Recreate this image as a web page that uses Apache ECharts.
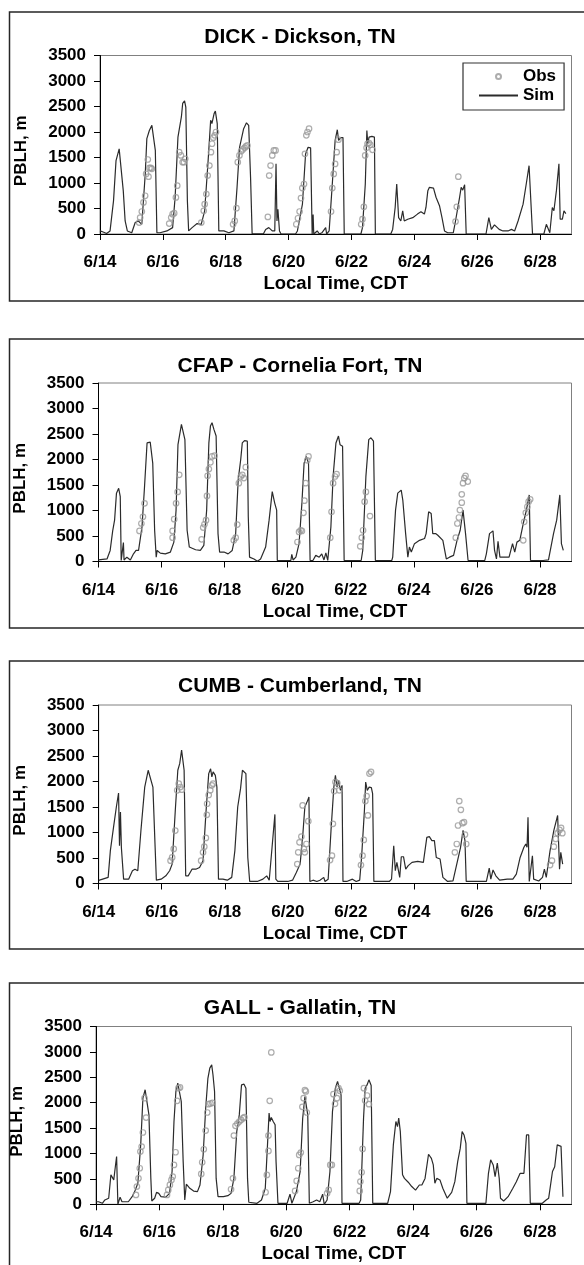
<!DOCTYPE html>
<html><head><meta charset="utf-8">
<script src="https://cdn.jsdelivr.net/npm/echarts@6/dist/echarts.min.js"></script>
<style>html,body{margin:0;padding:0;background:#fff}#c{width:584px;height:1265px}</style>
</head><body><div id="c"></div>
<script>
// ---- data (x = days since 6/14 00:00 CDT, y = PBLH in m) ----
const stationTitles = ['DICK - Dickson, TN', 'CFAP - Cornelia Fort, TN', 'CUMB - Cumberland, TN', 'GALL - Gallatin, TN'];
const xTickDays = [0, 2, 4, 6, 8, 10, 12, 14];
const xTickLabels = ['6/14', '6/16', '6/18', '6/20', '6/22', '6/24', '6/26', '6/28'];
const yTicks = [0, 500, 1000, 1500, 2000, 2500, 3000, 3500];

const dickSim = [[0,60],[0.1,40],[0.21,10],[0.32,60],[0.43,650],[0.51,1440],[0.61,1670],[0.67,1640],[0.74,850],[0.8,255],[0.87,60],[1.01,25],[1.12,225],[1.22,255],[1.33,190],[1.44,1180],[1.49,1870],[1.57,2030],[1.65,2130],[1.71,2110],[1.76,1640],[1.81,25],[1.91,25],[2.13,60],[2.31,125],[2.39,720],[2.48,1900],[2.59,2300],[2.63,2560],[2.69,2610],[2.73,2490],[2.78,650],[2.82,60],[2.93,125],[3.09,205],[3.22,190],[3.33,455],[3.44,1440],[3.52,2230],[3.56,2165],[3.63,2360],[3.67,2410],[3.73,2165],[3.78,60],[3.94,60],[4.1,25],[4.26,60],[4.36,915],[4.44,1700],[4.57,2065],[4.66,2180],[4.73,2130],[4.79,1110],[4.84,5],[5.2,5],[5.27,90],[5.37,125],[5.48,60],[5.56,60],[5.6,1375],[5.63,255],[5.66,485],[5.71,60],[5.76,0],[6.22,0],[6.28,60],[6.44,585],[6.54,1570],[6.62,1700],[6.7,1690],[6.75,0],[6.78,380],[6.8,0],[6.91,60],[6.98,0],[7.07,30],[7.18,125],[7.21,0],[7.29,60],[7.39,980],[7.48,1835],[7.55,2045],[7.59,1835],[7.66,1890],[7.73,1890],[7.77,0],[8.3,0],[8.35,125],[8.44,980],[8.49,2030],[8.52,1770],[8.56,1900],[8.65,1915],[8.73,1900],[8.76,0],[9.25,0],[9.31,90],[9.39,520],[9.44,980],[9.5,320],[9.57,255],[9.63,455],[9.68,255],[9.79,290],[9.95,320],[10.1,390],[10.21,435],[10.32,390],[10.37,520],[10.43,850],[10.48,915],[10.61,900],[10.69,720],[10.8,555],[10.88,320],[10.96,60],[11.06,25],[11.24,25],[11.31,255],[11.44,720],[11.49,915],[11.54,860],[11.6,965],[11.65,0],[12.28,0],[12.37,320],[12.45,90],[12.55,180],[12.7,90],[12.82,60],[12.98,60],[13.09,90],[13.19,60],[13.3,255],[13.46,585],[13.56,980],[13.65,1340],[13.7,1340],[13.76,0],[14.12,0],[14.2,190],[14.31,25],[14.39,520],[14.44,455],[14.52,850],[14.6,1375],[14.64,290],[14.71,290],[14.76,455],[14.82,400]];
const dickObs = [[1.245,224],[1.277,322],[1.33,441],[1.383,619],[1.436,750],[1.468,1178],[1.521,1461],[1.543,1125],[1.574,1296],[1.617,1296],[1.649,1277],[2.202,204],[2.266,322],[2.31,388],[2.36,408],[2.415,717],[2.457,947],[2.52,1605],[2.574,1540],[2.628,1408],[2.67,1408],[2.713,1474],[3.223,224],[3.3,454],[3.33,585],[3.383,783],[3.425,1145],[3.48,1342],[3.53,1605],[3.564,1770],[3.606,1888],[3.649,1934],[3.69,2000],[4.234,191],[4.287,257],[4.34,507],[4.383,1408],[4.436,1540],[4.489,1625],[4.543,1658],[4.6,1690],[4.64,1717],[4.69,1737],[5.34,335],[5.383,1145],[5.426,1342],[5.48,1540],[5.53,1638],[5.585,1638],[6.245,191],[6.298,309],[6.35,441],[6.394,704],[6.436,901],[6.49,980],[6.52,1573],[6.564,1934],[6.6,2000],[6.65,2066],[7.35,441],[7.39,901],[7.436,1178],[7.48,1375],[7.53,1605],[7.585,1849],[8.31,191],[8.35,290],[8.394,533],[8.436,1540],[8.48,1690],[8.51,1770],[8.56,1783],[8.6,1750],[8.67,1651],[11.31,243],[11.35,533],[11.4,1125]];

const cfapSim = [[0,30],[0.27,50],[0.37,217],[0.45,600],[0.51,810],[0.57,1340],[0.64,1435],[0.69,1270],[0.72,20],[0.76,20],[0.79,370],[0.81,30],[0.9,85],[1.01,30],[1.11,150],[1.19,217],[1.27,217],[1.38,680],[1.46,1470],[1.54,2325],[1.64,2340],[1.72,1930],[1.78,613],[1.83,85],[1.86,217],[1.96,165],[2.12,150],[2.28,185],[2.39,380],[2.46,1008],[2.52,2290],[2.57,2325],[2.63,2690],[2.68,2700],[2.74,2390],[2.81,613],[2.88,283],[3.08,230],[3.23,217],[3.34,315],[3.43,1008],[3.5,2325],[3.55,2655],[3.6,2720],[3.66,2590],[3.73,2460],[3.79,547],[3.84,185],[3.98,185],[4.11,150],[4.24,217],[4.35,547],[4.43,1600],[4.51,2000],[4.56,2325],[4.63,2370],[4.72,2360],[4.75,876],[4.79,85],[4.93,50],[5.04,5],[5.14,50],[5.3,283],[5.41,810],[5.51,1370],[5.59,1140],[5.65,1008],[5.67,20],[6.1,20],[6.13,138],[6.17,30],[6.26,85],[6.36,350],[6.45,1140],[6.52,1930],[6.59,2060],[6.66,1930],[6.71,20],[6.8,20],[6.89,120],[7.0,85],[7.08,150],[7.15,30],[7.21,170],[7.27,20],[7.37,680],[7.44,1670],[7.53,2325],[7.61,2460],[7.66,2290],[7.74,2260],[7.79,20],[8.33,20],[8.38,217],[8.48,1670],[8.57,2390],[8.64,2425],[8.72,2360],[8.78,20],[9.3,20],[9.33,85],[9.42,1008],[9.49,1340],[9.6,1400],[9.65,1205],[9.74,547],[9.81,85],[9.86,283],[9.92,185],[10.02,350],[10.18,415],[10.34,450],[10.39,547],[10.47,975],[10.55,940],[10.6,547],[10.69,547],[10.76,515],[10.92,415],[11.03,50],[11.13,85],[11.26,120],[11.37,415],[11.47,613],[11.56,1008],[11.64,547],[11.72,20],[12.25,20],[12.3,150],[12.4,547],[12.51,600],[12.56,217],[12.62,50],[12.67,395],[12.73,85],[12.83,85],[13.02,85],[13.13,350],[13.2,185],[13.27,380],[13.36,415],[13.47,745],[13.57,1008],[13.66,1305],[13.7,20],[14.1,20],[14.16,50],[14.27,30],[14.43,547],[14.53,810],[14.63,1305],[14.68,350],[14.74,217]];
const cfapObs = [[1.3,600],[1.36,745],[1.41,876],[1.46,1140],[2.35,468],[2.35,600],[2.4,830],[2.46,1140],[2.51,1364],[2.56,1700],[3.27,435],[3.32,665],[3.36,730],[3.41,810],[3.44,1285],[3.46,1680],[3.5,1812],[3.55,1944],[3.6,2060],[3.68,2075],[4.29,415],[4.35,468],[4.4,725],[4.45,1535],[4.51,1667],[4.56,1700],[4.61,1635],[4.67,1850],[6.31,382],[6.36,580],[6.41,613],[6.45,600],[6.5,955],[6.53,1193],[6.57,1535],[6.62,1984],[6.66,2060],[7.35,468],[7.39,975],[7.44,1535],[7.5,1667],[7.55,1713],[8.3,297],[8.35,468],[8.39,613],[8.44,1173],[8.48,1364],[8.61,890],[11.33,468],[11.38,745],[11.43,863],[11.46,1008],[11.52,1153],[11.52,1318],[11.56,1535],[11.6,1634],[11.64,1680],[11.71,1568],[13.47,415],[13.5,778],[13.55,955],[13.6,1074],[13.64,1173],[13.69,1219]];

const cumbSim = [[0,60],[0.3,120],[0.37,645],[0.47,1100],[0.56,1500],[0.63,1775],[0.66,740],[0.69,1400],[0.72,700],[0.79,85],[0.95,85],[1.07,250],[1.15,280],[1.24,250],[1.34,1040],[1.46,1890],[1.57,2220],[1.63,2250],[1.72,1890],[1.79,710],[1.83,65],[1.98,85],[2.13,150],[2.25,250],[2.33,380],[2.43,1430],[2.51,2220],[2.57,2350],[2.63,2615],[2.66,2650],[2.71,2220],[2.76,150],[2.84,150],[2.96,280],[3.08,280],[3.2,315],[3.31,445],[3.4,1365],[3.49,2155],[3.55,2250],[3.59,2090],[3.63,2190],[3.7,2120],[3.75,1890],[3.8,85],[3.94,85],[4.08,65],[4.22,120],[4.32,645],[4.41,1500],[4.5,1860],[4.56,2220],[4.62,2250],[4.67,2155],[4.73,510],[4.79,40],[5.03,40],[5.21,85],[5.33,150],[5.41,65],[5.5,710],[5.59,1355],[5.62,85],[5.68,40],[6.0,40],[6.15,65],[6.27,215],[6.39,380],[6.47,905],[6.54,1500],[6.63,1630],[6.67,1695],[6.7,40],[6.8,65],[6.92,40],[7.02,65],[7.14,120],[7.18,40],[7.28,85],[7.37,1040],[7.46,1890],[7.51,2120],[7.56,1890],[7.61,2020],[7.67,1825],[7.72,1925],[7.75,40],[7.87,40],[8.05,85],[8.17,40],[8.28,65],[8.34,510],[8.43,1430],[8.47,1990],[8.52,1825],[8.58,1890],[8.65,1880],[8.69,1760],[8.73,40],[9.22,40],[9.29,85],[9.36,740],[9.41,250],[9.46,415],[9.5,380],[9.55,120],[9.6,525],[9.67,525],[9.74,280],[9.82,350],[9.94,415],[10.12,435],[10.3,415],[10.36,445],[10.41,905],[10.49,920],[10.57,840],[10.65,840],[10.71,510],[10.83,480],[10.92,120],[11.07,40],[11.24,50],[11.36,380],[11.48,710],[11.56,1040],[11.62,840],[11.66,40],[12.3,40],[12.39,300],[12.44,85],[12.51,265],[12.6,150],[12.72,65],[12.96,85],[13.14,85],[13.25,185],[13.37,510],[13.49,710],[13.55,775],[13.59,710],[13.62,1300],[13.66,40],[13.72,40],[13.76,545],[13.8,85],[13.96,50],[14.08,120],[14.14,280],[14.2,120],[14.32,645],[14.44,1040],[14.56,1335],[14.62,280],[14.66,610],[14.72,380]];
const cumbObs = [[2.28,447],[2.33,512],[2.38,677],[2.43,1038],[2.49,1826],[2.54,1958],[2.59,1892],[2.64,1840],[3.25,447],[3.31,611],[3.35,723],[3.4,894],[3.43,1347],[3.44,1564],[3.49,1735],[3.54,1826],[3.59,1925],[3.63,1958],[6.3,381],[6.33,611],[6.37,808],[6.43,920],[6.47,1531],[6.51,677],[6.54,611],[6.59,775],[6.65,1222],[7.34,460],[7.4,545],[7.43,1170],[7.47,1813],[7.51,1990],[7.57,1971],[7.63,1826],[8.32,361],[8.37,545],[8.41,854],[8.46,1616],[8.5,1715],[8.54,1334],[8.59,2155],[8.64,2188],[11.3,611],[11.36,775],[11.4,1137],[11.44,1616],[11.49,1445],[11.54,1183],[11.59,1202],[11.62,959],[11.66,775],[14.32,361],[14.38,447],[14.44,723],[14.5,874],[14.56,986],[14.62,1051],[14.67,1091],[14.71,986]];

const gallSim = [[0,50],[0.08,50],[0.2,20],[0.28,85],[0.4,120],[0.47,580],[0.53,580],[0.56,480],[0.61,740],[0.65,940],[0.69,0],[0.73,20],[0.76,140],[0.82,50],[1.02,50],[1.14,150],[1.22,250],[1.32,415],[1.41,1170],[1.48,2090],[1.55,2255],[1.61,2220],[1.67,1760],[1.73,510],[1.76,65],[1.85,120],[1.91,235],[1.98,215],[2.05,150],[2.2,140],[2.32,215],[2.4,645],[2.46,1630],[2.52,2220],[2.58,2385],[2.64,2350],[2.69,2020],[2.75,840],[2.8,85],[2.85,395],[2.96,315],[3.08,260],[3.2,250],[3.28,380],[3.38,970],[3.46,1890],[3.53,2480],[3.59,2680],[3.65,2745],[3.69,2550],[3.74,2220],[3.79,510],[3.85,150],[4.02,150],[4.16,170],[4.26,215],[4.35,510],[4.44,1430],[4.52,1760],[4.59,2350],[4.67,2365],[4.73,2285],[4.78,510],[4.82,40],[5.08,20],[5.22,85],[5.34,315],[5.41,1170],[5.46,1795],[5.49,1630],[5.53,1710],[5.59,1630],[5.65,1565],[5.68,840],[5.72,840],[5.74,20],[6.03,20],[6.08,120],[6.12,200],[6.18,20],[6.32,250],[6.44,645],[6.52,1695],[6.59,2120],[6.64,2100],[6.68,1760],[6.73,20],[6.85,50],[6.96,85],[7.06,50],[7.15,200],[7.2,0],[7.29,85],[7.38,645],[7.46,1830],[7.55,2285],[7.62,2420],[7.67,2450],[7.73,2155],[7.76,20],[8.3,20],[8.35,85],[8.44,1695],[8.49,2285],[8.55,2350],[8.61,2450],[8.68,2340],[8.73,20],[9.2,20],[9.29,250],[9.38,1170],[9.46,1630],[9.51,1530],[9.55,1695],[9.6,1430],[9.67,580],[9.73,510],[9.85,435],[9.96,350],[10.08,280],[10.2,380],[10.28,380],[10.38,510],[10.49,985],[10.58,905],[10.64,775],[10.69,415],[10.75,510],[10.85,480],[10.94,315],[11.08,120],[11.22,235],[11.32,445],[11.41,840],[11.49,1100],[11.55,1430],[11.61,1365],[11.67,1200],[11.7,20],[12.3,20],[12.38,610],[12.45,875],[12.53,775],[12.59,545],[12.66,810],[12.72,510],[12.76,120],[12.86,65],[13.0,150],[13.15,315],[13.26,445],[13.38,610],[13.5,610],[13.58,1365],[13.65,1365],[13.7,20],[14.08,20],[14.2,85],[14.28,120],[14.4,645],[14.47,740],[14.55,1170],[14.61,1170],[14.67,1140],[14.73,150]];
const gallObs = [[1.26,184],[1.29,348],[1.34,512],[1.38,710],[1.4,1038],[1.44,1137],[1.48,1413],[1.53,2089],[1.58,1708],[2.24,184],[2.28,283],[2.33,381],[2.38,480],[2.42,545],[2.46,775],[2.51,1025],[2.56,2037],[2.6,2286],[2.65,2300],[3.32,598],[3.35,828],[3.4,1084],[3.46,1452],[3.51,1807],[3.55,1971],[3.61,1984],[3.67,1997],[4.26,296],[4.32,512],[4.35,1353],[4.4,1544],[4.46,1590],[4.52,1629],[4.58,1662],[4.64,1695],[4.68,1715],[5.35,237],[5.39,578],[5.44,1051],[5.44,1353],[5.48,2037],[5.53,2989],[6.28,263],[6.33,460],[6.38,710],[6.41,972],[6.46,1018],[6.51,1918],[6.55,2089],[6.59,2247],[6.62,2221],[6.65,1807],[7.29,217],[7.34,283],[7.39,775],[7.44,775],[7.49,2168],[7.54,1978],[7.6,2089],[7.65,2286],[7.69,2234],[8.32,263],[8.34,447],[8.38,631],[8.41,1091],[8.45,2286],[8.49,2043],[8.55,2142],[8.61,1971]];

// ---- layout / style ----
const FONT = "'Liberation Sans', Arial, Helvetica, sans-serif";
const PLOT_RIGHT = 571.5;
const panels = [
  {title: stationTitles[0], sim: dickSim, obs: dickObs, boxY: 12,  boxH: 289, left: 100,  top: 55.5,  h: 178.5, titleTop: 26.5},
  {title: stationTitles[1], sim: cfapSim, obs: cfapObs, boxY: 339, boxH: 289, left: 98.5, top: 383,   h: 178.5, titleTop: 356},
  {title: stationTitles[2], sim: cumbSim, obs: cumbObs, boxY: 661, boxH: 288, left: 98.7, top: 705,   h: 178.5, titleTop: 675.5},
  {title: stationTitles[3], sim: gallSim, obs: gallObs, boxY: 983, boxH: 300, left: 96,   top: 1026.5,h: 177.8, titleTop: 997.8}
];
const boldText = (size) => ({fontFamily: FONT, fontSize: size, fontWeight: 'bold', color: '#000'});

const option = {
  animation: false,
  backgroundColor: '#fff',
  title: panels.map(p => ({text: p.title, left: 300, top: p.titleTop, textAlign: 'center', padding: 0, textStyle: boldText(21)})),
  legend: {
    data: [
      {name: 'Obs', icon: 'circle'},
      {name: 'Sim', itemStyle: {color: 'rgba(0,0,0,0)', borderWidth: 0, borderColor: 'rgba(0,0,0,0)'}}
    ],
    orient: 'vertical', left: 463, top: 63,
    itemWidth: 39, itemHeight: 5, itemGap: 0,
    padding: [4, 8, 5, 15],
    borderColor: '#333', borderWidth: 1.2, backgroundColor: '#fff',
    selectedMode: false,
    textStyle: Object.assign(boldText(17), {lineHeight: 19})
  },
  grid: panels.map(p => ({left: p.left, top: p.top, width: PLOT_RIGHT - p.left, height: p.h, show: true, borderColor: '#808080', borderWidth: 1, containLabel: false, outerBoundsMode: 'none'})),
  xAxis: panels.map((p, i) => ({
    type: 'value', gridIndex: i, min: 0, max: 15,
    name: 'Local Time, CDT', nameLocation: 'middle', nameGap: 40.5, nameTextStyle: boldText(18.5),
    axisLine: {show: true, onZero: false, lineStyle: {color: '#000', width: 1}},
    axisTick: {show: true, inside: false, length: 6, lineStyle: {color: '#000'}, customValues: xTickDays},
    axisLabel: {show: true, margin: 20, customValues: xTickDays, formatter: v => xTickLabels[xTickDays.indexOf(Math.round(v))] || '', ...boldText(17)},
    splitLine: {show: false}
  })),
  yAxis: panels.map((p, i) => ({
    type: 'value', gridIndex: i, min: yTicks[0], max: yTicks[yTicks.length - 1], interval: 500,
    name: 'PBLH, m', nameLocation: 'middle', nameGap: 70, nameTextStyle: Object.assign(boldText(17), {padding: [0, 12, 0, 0]}),
    axisLine: {show: true, lineStyle: {color: '#000', width: 1}},
    axisTick: {show: true, inside: false, length: 6, lineStyle: {color: '#000'}},
    axisLabel: {show: true, margin: 14, formatter: v => String(v), ...boldText(17)},
    splitLine: {show: false}
  })),
  graphic: panels.map(p => ({type: 'rect', silent: true, z: -10, shape: {x: 9.5, y: p.boxY, width: 600, height: p.boxH}, style: {fill: 'none', stroke: '#262626', lineWidth: 1.5}})),
  series: []
};
panels.forEach((p, i) => {
  option.series.push({type: 'line', name: 'Sim', xAxisIndex: i, yAxisIndex: i, data: p.sim, symbol: 'none', showSymbol: false,
    lineStyle: {color: '#2b2b2b', width: 1.2}, itemStyle: {color: '#2b2b2b'}, z: 2});
  option.series.push({type: 'scatter', name: 'Obs', xAxisIndex: i, yAxisIndex: i, data: p.obs, symbol: 'circle', symbolSize: 5.5,
    itemStyle: {color: 'rgba(255,255,255,0)', borderColor: '#999', borderWidth: 1.2}, z: 3});
});
const chart = echarts.init(document.getElementById('c'), null, {renderer: 'canvas'});
chart.setOption(option);
</script>
</body></html>
